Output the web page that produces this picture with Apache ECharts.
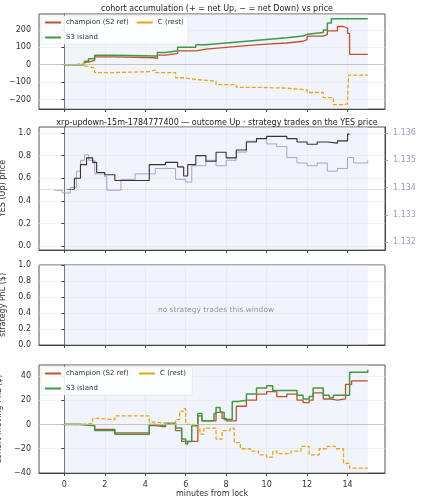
<!DOCTYPE html>
<html><head><meta charset="utf-8">
<script src="https://cdn.jsdelivr.net/npm/echarts@6/dist/echarts.min.js"></script>
<style>html,body{margin:0;padding:0;background:#fff}#c{width:423px;height:500px}</style>
</head><body><div id="c"></div>
<script>
// panel 1: accumulated net YES (shares)
var accChampion = [[0,0],[0.9,0],[1,15],[1.2,25],[1.5,45],[2.5,40],[4.5,35],[4.6,55],[5,65],[5.6,80],[6.5,90],[7,100],[8,110],[9,118],[10,125],[11,135],[11.8,145],[12,165],[12.8,175],[13,195],[13.5,220],[13.8,210],[14,180],[14.1,60],[15,60]];
var accS3 = [[0,0],[0.9,0],[1,20],[1.2,35],[1.5,55],[2.5,50],[4.5,50],[4.6,70],[5,80],[5.6,100],[6.5,115],[7,125],[8,135],[9,145],[10,155],[11,165],[11.8,175],[12,185],[12.8,200],[13,240],[13.2,265],[15,270]];
var accC = [[0,0],[0.5,5],[0.8,10],[1,-10],[1.2,-20],[1.5,-45],[2.5,-40],[4.2,-30],[4.5,-45],[5.5,-75],[5.9,-85],[6.5,-95],[7.5,-115],[8.5,-130],[9.5,-135],[11,-145],[12,-160],[12.8,-190],[13.3,-230],[13.8,-225],[14,-200],[14.05,-60],[15,-55]];
// panel 2: YES price and XRP/USD
var yesPrice = [[0.15,0.5],[0.5,0.6],[0.8,0.72],[1.1,0.78],[1.4,0.74],[1.6,0.65],[2,0.63],[2.5,0.58],[4.2,0.72],[5,0.74],[5.6,0.7],[5.9,0.62],[6.1,0.72],[6.5,0.8],[7,0.75],[7.5,0.83],[8,0.78],[8.5,0.85],[9,0.92],[9.5,0.95],[10,0.97],[11,0.95],[11.5,0.92],[12,0.9],[12.5,0.92],[13,0.91],[13.5,0.93],[14,0.99],[14.1,1.0]];
var xrpUsd = [[-0.5,1.1339],[-0.1,1.1338],[0.3,1.1340],[0.6,1.1346],[0.8,1.1350],[1.0,1.1352],[1.2,1.1350],[1.5,1.1345],[2.0,1.1344],[2.1,1.1339],[2.5,1.1339],[2.8,1.1343],[3.5,1.1345],[4.0,1.1345],[4.5,1.1347],[5,1.1347],[5.5,1.1343],[6,1.1342],[6.3,1.1348],[7,1.1350],[7.5,1.1348],[8,1.1350],[8.5,1.1353],[9,1.1357],[9.5,1.1358],[10,1.1356],[10.5,1.1355],[11,1.1351],[11.5,1.1349],[12,1.1348],[12.5,1.1349],[13,1.1346],[13.5,1.1347],[14,1.1351],[14.3,1.1349],[15,1.1350]];
// panel 4: cohort moving PnL ($)
var pnlChampion = [[0,0],[0.8,-1],[1.5,-4],[2.5,-7],[4.2,-1],[4.5,-2],[5,0],[5.5,-5],[5.8,-14],[6.6,7],[6.8,3],[7.4,3],[7.5,10],[7.8,5],[8,3],[8.5,15],[9,20],[9.5,25],[10,27],[10.5,23],[11,25],[11.5,20],[11.8,18],[12.1,20],[12.3,26],[12.8,21],[13.1,20],[13.5,21],[13.9,33],[14.2,36],[15,36]];
var pnlS3 = [[0,0],[0.8,-1],[1.5,-5],[2.5,-8],[4.2,0],[4.5,-1],[5,1],[5.5,-3],[5.8,-12],[6,-16],[6.1,-14],[6.3,-1],[6.6,9],[6.8,3],[7.4,9],[7.5,14],[7.7,10],[7.9,4],[8.3,19],[8.6,20],[9,25],[9.5,30],[10,32],[10.3,28],[11.5,24],[11.8,21],[12.1,23],[12.3,30],[12.8,24],[13.1,22],[13.3,24],[14.1,43],[15,45]];
var pnlC = [[0,0],[0.8,1],[1.4,5],[1.7,4],[2.5,7],[4.2,2],[4.5,1],[5,0],[5.5,4],[5.7,11],[5.9,13],[6,0],[6.4,-2],[6.7,-8],[6.9,-3],[7.3,-3],[7.5,-12],[7.8,-5],[8.2,-3],[8.4,-15],[8.7,-20],[9.2,-22],[9.6,-25],[10,-27],[10.3,-22],[10.5,-24],[11.2,-22],[11.7,-18],[12.1,-25],[12.6,-20],[13,-18],[13.4,-20],[13.8,-32],[14.1,-36],[15,-36]];
var xTicks = [0, 2, 4, 6, 8, 10, 12, 14];

var RED = '#c4512b', GREEN = '#3e9a48', YEL = '#e6a817', PUR = '#a397cc';
var fontFam = 'DejaVu Sans';
function grid(top, h) {
	return {left: 39, right: 38, top: top, height: h, outerBoundsMode: 'none', containLabel: false,
		show: true, borderColor: '#555', borderWidth: 1};
}
var grids = [grid(14, 95), grid(127, 123), grid(265, 80), grid(365, 108)];
function xAx(i, show) {
	return {type: 'value', gridIndex: i, min: -1.25, max: 15.85,
		axisLine: {onZero: false, lineStyle: {color: '#444'}},
		axisTick: {customValues: xTicks, length: 3, lineStyle: {color: '#444'}},
		axisLabel: {show: show, customValues: xTicks, color: '#333', fontSize: 8, fontFamily: fontFam},
		splitLine: {show: true, lineStyle: {color: '#e8e8ee', width: 0.6}},
		name: show ? 'minutes from lock' : '', nameLocation: 'middle', nameGap: 17,
		nameTextStyle: {color: '#333', fontSize: 8, fontFamily: fontFam}};
}
function yAx(i, min, max, ticks, name, fmt) {
	return {type: 'value', gridIndex: i, min: min, max: max,
		axisLine: {show: true, lineStyle: {color: '#444'}},
		axisTick: {show: true, customValues: ticks, length: 3, lineStyle: {color: '#444'}},
		axisLabel: {customValues: ticks, color: '#333', fontSize: 8, fontFamily: fontFam, formatter: fmt},
		splitLine: {show: true, lineStyle: {color: '#e8e8ee', width: 0.6}},
		name: name, nameLocation: 'middle', nameGap: 27, nameRotate: 90,
		nameTextStyle: {color: '#333', fontSize: 8, fontFamily: fontFam}};
}
function minus(v) { return String(v).replace('-', '\u2212'); }
function line(name, data, color, xi, yi, dashed, w) {
	return {name: name, type: 'line', xAxisIndex: xi, yAxisIndex: yi, data: data, step: 'end',
		showSymbol: false, symbol: 'none', animation: false,
		lineStyle: {color: color, width: w || 1.3, type: dashed ? [4, 2] : 'solid'}, itemStyle: {color: color}};
}
function shade(xi, yi, zeroLine) {
	return {type: 'line', xAxisIndex: xi, yAxisIndex: yi, data: [], silent: true,
		markArea: {silent: true, itemStyle: {color: 'rgba(225,230,245,0.45)'}, data: [[{xAxis: 0}, {xAxis: 15}]]},
		markLine: zeroLine == null ? undefined : {silent: true, symbol: 'none', label: {show: false},
			lineStyle: {color: '#bbb', width: 0.8, type: zeroLine.type}, data: [{yAxis: zeroLine.y}]}};
}
var chart = echarts.init(document.getElementById('c'), null, {renderer: 'canvas'});
var legendCommon = {icon: 'rect', itemWidth: 16, itemHeight: 2, textStyle: {fontSize: 7, fontFamily: fontFam, color: '#333'},
	backgroundColor: 'rgba(255,255,255,0.85)', borderColor: '#ddd', borderWidth: 0.5, borderRadius: 2,
	padding: [3, 4], orient: 'horizontal', itemGap: 8};
chart.setOption({
	backgroundColor: '#fff',
	title: [
		{text: 'cohort accumulation (+ = net Up, \u2212 = net Down) vs price', left: 212, top: 0, textAlign: 'center',
			textStyle: {fontSize: 8, fontWeight: 'normal', color: '#222', fontFamily: fontFam}},
		{text: 'xrp-updown-15m-1784777400 \u2014 outcome Up \u00b7 strategy trades on the YES price', left: 212, top: 114, textAlign: 'center',
			textStyle: {fontSize: 8, fontWeight: 'normal', color: '#222', fontFamily: fontFam}},
		{text: 'no strategy trades this window', left: 211, top: 301, textAlign: 'center',
			textStyle: {fontSize: 7.5, fontWeight: 'normal', color: '#999', fontFamily: fontFam}}
	],
	legend: [
		Object.assign({left: 41, top: 16, width: 150, data: ['champion (S2 ref)', 'C (rest)', 'S3 island']}, legendCommon),
		Object.assign({left: 41, top: 367, width: 150, data: ['champion (S2 ref) ', 'C (rest) ', 'S3 island ']}, legendCommon)
	],
	grid: grids,
	xAxis: [xAx(0, false), xAx(1, false), xAx(2, false), xAx(3, true)],
	yAxis: [
		yAx(0, -255, 292, [-200, -100, 0, 100, 200], 'acc. net YES (shares)', minus),
		yAx(1, -0.035, 1.053, [0, 0.2, 0.4, 0.6, 0.8, 1.0], 'YES (Up) price', function(v) { return v.toFixed(1); }),
		yAx(2, 0, 1, [0, 0.2, 0.4, 0.6, 0.8, 1.0], 'strategy PnL ($)', function(v) { return v.toFixed(1); }),
		yAx(3, -40, 49, [-40, -20, 0, 20, 40], 'cohort moving PnL ($)', minus),
		{type: 'value', gridIndex: 1, position: 'right', min: 1.13171, max: 1.13622,
			axisLine: {show: true, lineStyle: {color: '#444'}},
			axisTick: {show: true, customValues: [1.132, 1.133, 1.134, 1.135, 1.136], length: 3, lineStyle: {color: PUR}},
			axisLabel: {customValues: [1.132, 1.133, 1.134, 1.135, 1.136], color: PUR, fontSize: 8, fontFamily: fontFam,
				formatter: function(v) { return v.toFixed(3); }},
			splitLine: {show: false},
			name: 'XRP/USD (strike dotted = YES 0.5)', nameLocation: 'middle', nameGap: 29, nameRotate: -90,
			nameTextStyle: {color: PUR, fontSize: 6.5, fontFamily: fontFam}}
	],
	series: [
		shade(0, 0, {y: 0, type: 'solid'}),
		shade(1, 1, {y: 0.5, type: 'dotted'}),
		shade(2, 2, null),
		shade(3, 3, {y: 0, type: 'solid'}),
		line('champion (S2 ref)', accChampion, RED, 0, 0),
		line('S3 island', accS3, GREEN, 0, 0, false, 1.5),
		line('C (rest)', accC, YEL, 0, 0, true),
		line('xrp', xrpUsd, PUR, 1, 4, false, 0.9),
		line('yes', yesPrice, '#333', 1, 1, false, 1.1),
		line('champion (S2 ref) ', pnlChampion, RED, 3, 3),
		line('S3 island ', pnlS3, GREEN, 3, 3, false, 1.5),
		line('C (rest) ', pnlC, YEL, 3, 3, true)
	]
});
</script>
</body></html>
